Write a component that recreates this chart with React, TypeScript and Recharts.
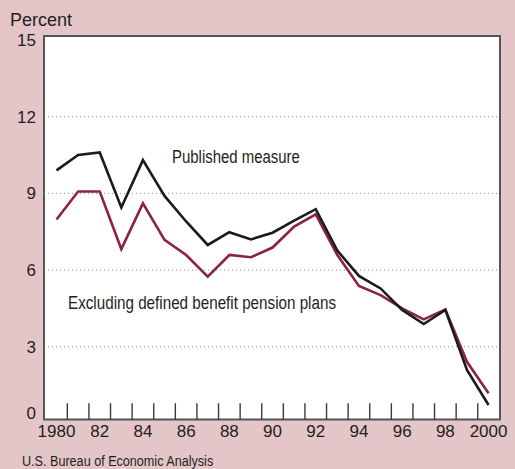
import React from "react";
import {
    LineChart,
    Line,
    XAxis,
    YAxis,
    ReferenceLine,
    ReferenceArea,
} from "recharts";

const years = [
    1980, 1981, 1982, 1983, 1984, 1985, 1986, 1987, 1988, 1989, 1990,
    1991, 1992, 1993, 1994, 1995, 1996, 1997, 1998, 1999, 2000,
];
const published = [
    9.9, 10.5, 10.6, 8.45, 10.3, 8.9, 7.9, 6.98, 7.48, 7.2, 7.46,
    7.93, 8.38, 6.76, 5.77, 5.28, 4.44, 3.89, 4.44, 2.09, 0.72,
];
const excludingPensions = [
    7.98, 9.07, 9.07, 6.82, 8.61, 7.18, 6.59, 5.74, 6.59, 6.5, 6.88,
    7.7, 8.18, 6.59, 5.38, 5.02, 4.5, 4.07, 4.46, 2.41, 1.18,
];
const yTicks = [0, 3, 6, 9, 12, 15];
const gridValues = [3, 6, 9, 12];
const xLabelYears = [1980, 1982, 1984, 1986, 1988, 1990, 1992, 1994, 1996, 1998, 2000];
const tickMarks = years.slice(0, -1).map((y) => y + 0.5);

const data = years.map((year, i) => ({
    year,
    published: published[i],
    excluding: excludingPensions[i],
}));

const BG = "#e4c6c9";
const INK = "#231f20";
const SANS = "'Liberation Sans', Arial, Helvetica, sans-serif";

const X_DOMAIN: [number, number] = [1979.42, 2000.53];

function YTick({ x, y, payload }: any) {
    const v = payload.value;
    return (
        <text
            x={x}
            y={v === 0 ? y - 10 : y}
            dy="0.355em"
            textAnchor="end"
            fill={INK}
            fontSize={17}
            fontFamily={SANS}
        >
            {v}
        </text>
    );
}

const fmtYear = (y: number) => (y === 1980 || y === 2000 ? String(y) : String(y).slice(2));

// condensed look: regular sans squeezed horizontally
const narrow = (left: number, top: number, size: number, sx: number): React.CSSProperties => ({
    position: "absolute",
    left,
    top,
    fontSize: size,
    lineHeight: 1,
    fontFamily: SANS,
    color: INK,
    whiteSpace: "nowrap",
    transform: `scaleX(${sx})`,
    transformOrigin: "0 0",
});

export default function App() {
    return (
        <div
            style={{
                position: "absolute",
                left: 0,
                top: 0,
                width: 515,
                height: 469,
                backgroundColor: BG,
                overflow: "hidden",
            }}
        >
            {/* axis title */}
            <div
                style={{ position: "absolute", left: 10, top: 11, fontSize: 18, lineHeight: 1, fontFamily: SANS, color: INK }}
            >
                Percent
            </div>

            <LineChart
                width={515}
                height={469}
                data={data}
                margin={{ top: 40, right: 15, bottom: 0, left: 0 }}
            >
                <XAxis
                    dataKey="year"
                    type="number"
                    domain={X_DOMAIN}
                    allowDataOverflow
                    ticks={xLabelYears}
                    tickFormatter={fmtYear}
                    axisLine={false}
                    tickLine={false}
                    tickSize={0}
                    tickMargin={2}
                    height={45.6}
                    interval={0}
                    tick={{ fill: INK, fontSize: 17, fontFamily: SANS }}
                />
                <YAxis
                    type="number"
                    domain={[0, 15]}
                    allowDataOverflow
                    ticks={yTicks}
                    interval={0}
                    width={44}
                    axisLine={false}
                    tickLine={false}
                    tick={<YTick />}
                />

                {/* white plot box with frame */}
                <ReferenceArea
                    x1={X_DOMAIN[0]}
                    x2={X_DOMAIN[1]}
                    y1={0.15}
                    y2={15.16}
                    ifOverflow="visible"
                    fill="#ffffff"
                    fillOpacity={1}
                    stroke="#555555"
                    strokeWidth={2}
                />

                {gridValues.map((g) => (
                    <ReferenceLine key={g} y={g} stroke="#8a8a8a" strokeDasharray="1 3" strokeWidth={1} />
                ))}

                {tickMarks.map((t) => (
                    <ReferenceLine
                        key={t}
                        segment={[{ x: t, y: 0.15 }, { x: t, y: 0.79 }]}
                        stroke="#3a3a3a"
                        strokeWidth={1.4}
                        ifOverflow="visible"
                    />
                ))}

                <Line
                    dataKey="excluding"
                    stroke="#8b2346"
                    strokeWidth={2.6}
                    dot={false}
                    activeDot={false}
                    isAnimationActive={false}
                    strokeLinejoin="miter"
                />
                <Line
                    dataKey="published"
                    stroke="#1c1a1b"
                    strokeWidth={2.6}
                    dot={false}
                    activeDot={false}
                    isAnimationActive={false}
                    strokeLinejoin="miter"
                />
            </LineChart>

            {/* annotations */}
            <div style={narrow(171.7, 148.3, 18.3, 0.817)}>Published measure</div>
            <div style={narrow(68.3, 293.6, 18.5, 0.822)}>Excluding defined benefit pension plans</div>

            {/* source */}
            <div style={{ ...narrow(21.7, 455.2, 14, 0.9), lineHeight: "12px" }}>
                U.S. Bureau of Economic Analysis
            </div>
        </div>
    );
}
